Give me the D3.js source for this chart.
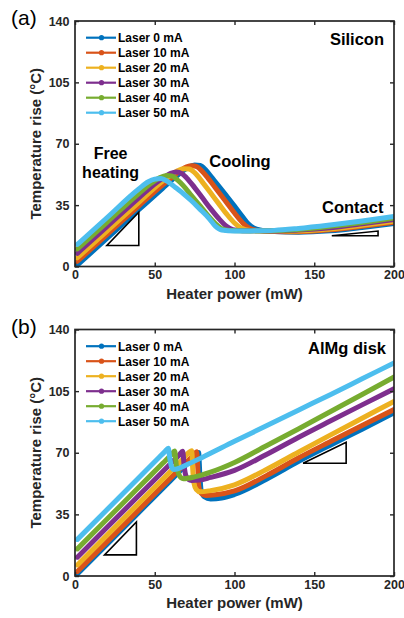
<!DOCTYPE html>
<html>
<head>
<meta charset="utf-8">
<script src="https://cdn.jsdelivr.net/npm/d3@7"></script>
<style>
  html, body { margin: 0; padding: 0; background: #fff; }
  svg { display: block; }
  text { font-family: "Liberation Sans", Arial, Helvetica, sans-serif; }
</style>
</head>
<body>
<svg id="chart" width="404" height="618"></svg>
<script>
// ---------------- DATA ----------------
const xTicks = [0, 50, 100, 150, 200];
const yTicks = [0, 35, 70, 105, 140];
const laserLabels = ["Laser 0 mA", "Laser 10 mA", "Laser 20 mA", "Laser 30 mA", "Laser 40 mA", "Laser 50 mA"];
const seriesColors = ["#0072BD", "#D95319", "#EDB120", "#7E2F8E", "#77AC30", "#4DBEEE"];

// (a) Silicon: [heater power mW, temperature rise °C]
const siLaser0  = [[1.5,0.8],[20,16],[40,32.4],[55,44.6],[62,50.2],[67,54],[71,56.6],[75,57.9],[78.5,57.6],[82,55],[86,50.5],[90,46],[95,40.3],[100,34.5],[105,28.5],[109,24],[112,22],[116,20.8],[125,20],[140,19.6],[160,20.4],[180,22.3],[200,24.5]];
const siLaser10 = [[1.5,3],[20,18.2],[40,34.6],[55,46.6],[61,51],[66,54.6],[70,56.8],[73.5,57.5],[76.5,56.9],[80,54],[85,48.5],[90,42.5],[95,36.5],[100,30.5],[105,25],[109,22],[114,20.6],[125,20],[140,19.8],[160,20.9],[180,22.9],[200,25.2]];
const siLaser20 = [[1.5,5],[20,20.2],[40,36.6],[54,48],[59,51.5],[64,54.4],[68,55.8],[71.5,55.6],[75,53.5],[80,48],[85,42],[90,36],[95,30],[100,24.8],[104,22],[110,20.6],[125,20.2],[140,20.2],[160,21.4],[180,23.5],[200,25.8]];
const siLaser30 = [[1.5,7.5],[20,22.7],[40,39.1],[51,47.8],[56,51],[60,53.1],[63.5,53.9],[67,53],[70,50.5],[75,45],[80,39],[85,33],[90,27.5],[95,23],[99,21],[105,20.4],[125,20.3],[140,20.8],[160,22.1],[180,24.3],[200,26.8]];
const siLaser40 = [[1.5,10],[20,25.2],[40,41.6],[48,47.6],[53,50.6],[57.5,51.9],[61,51.5],[64,49.5],[68,46],[73,40.5],[78,35],[83,29.5],[88,24.5],[92,21.5],[97,20.5],[110,20.3],[125,20.4],[140,21.1],[160,22.9],[180,25.1],[200,27.7]];
const siLaser50 = [[1.5,12.6],[20,27.8],[40,44.2],[46,48.3],[50,49.8],[54,50.2],[58,48.5],[63,45],[68,41.5],[73,37.5],[78,33],[84,27.5],[88,23],[92,20.8],[100,20.2],[110,20.3],[125,20.6],[140,21.7],[160,23.7],[180,26],[200,28.5]];

// (b) AlMg disk
const alLaser0  = [[1.5,1.1],[20,17.9],[40,36.1],[60,54.3],[72,65.2],[77.5,70.2],[78.2,59],[79,49],[81,45],[85,43.8],[92,44.3],[100,46.3],[120,55],[140,65],[160,74.3],[180,83.4],[200,92.6]];
const alLaser10 = [[1.5,2.5],[20,19.3],[40,37.5],[60,55.7],[70,64.8],[74.5,68.9],[76.3,70.5],[77,61],[77.6,51],[79,47],[82,45.7],[88,46.1],[100,48.3],[120,57],[140,67],[160,76.3],[180,85.5],[200,94.5]];
const alLaser20 = [[1.5,6.3],[20,23.1],[40,41.3],[60,59.5],[68,66.8],[71.5,70.3],[73.2,71.1],[73.8,61],[74.5,53],[76,49.2],[78.5,47.8],[85,48.5],[100,51.8],[120,60.5],[140,70.3],[160,80],[180,89.6],[200,99.2]];
const alLaser30 = [[1.5,10.7],[20,27.5],[40,45.7],[60,63.9],[65.5,68.9],[67.5,70.9],[68.5,62],[69.5,57],[71,55],[73,54.3],[78,54.5],[85,56],[100,60],[120,69],[140,78.7],[160,88],[180,97.2],[200,106.3]];
const alLaser40 = [[1.5,15.4],[20,32.2],[40,50.4],[55,64],[60.5,69],[62.5,71],[63.5,63],[65,58],[66.5,55.8],[68,55.3],[75,56.3],[85,59],[100,64.5],[120,74],[140,83.5],[160,93.3],[180,103.1],[200,113]];
const alLaser50 = [[1.5,20.8],[20,37.6],[40,55.8],[52,66.7],[56.5,70.8],[58.5,72.5],[59.5,66.5],[60.5,62.2],[62,60.5],[70,63.2],[80,67.5],[100,76.5],[120,85.3],[140,94.2],[160,103],[180,112],[200,121]];

// slope guide triangles (data units)
const siTriangles = [[[20,12],[40,12],[40,31]], [[161,17.5],[190,17.5],[190,20.2]]];
const alTriangles = [[[18.5,12],[38.5,12],[38.5,30.7]], [[143,64],[170,64],[170,76]]];

// ---------------- DRAWING ----------------
const svg = d3.select("#chart");
const FONT = '"Liberation Sans", Arial, Helvetica, sans-serif';
const AXC = "#262626";
const left = 75, right = 394;

function drawPanel(cfg) {
  const x = d3.scaleLinear().domain([0, 200]).range([left, right]);
  const y = d3.scaleLinear().domain([0, 140]).range([cfg.bottom, cfg.top]);
  const g = svg.append("g");

  const clipId = "clip-" + cfg.id;
  svg.append("defs").append("clipPath").attr("id", clipId)
    .append("rect").attr("x", left).attr("y", cfg.top)
    .attr("width", right - left).attr("height", cfg.bottom - cfg.top);

  // series
  const line = d3.line().x(d => x(d[0])).y(d => y(d[1])).curve(d3.curveMonotoneX);
  const plot = g.append("g").attr("clip-path", `url(#${clipId})`);
  cfg.series.forEach((s, i) => {
    plot.append("path").datum(s)
      .attr("d", line)
      .attr("fill", "none")
      .attr("stroke", seriesColors[i])
      .attr("stroke-width", 5)
      .attr("stroke-linejoin", "round")
      .attr("stroke-linecap", "round");
  });

  // triangles
  cfg.triangles.forEach(t => {
    g.append("path")
      .attr("d", d3.line().x(d => x(d[0])).y(d => y(d[1]))(t) + "Z")
      .attr("fill", "none").attr("stroke", "#000").attr("stroke-width", 1.6)
      .attr("stroke-linejoin", "miter");
  });

  // axes
  const ax = g.append("g").attr("transform", `translate(0,${cfg.bottom})`)
    .call(d3.axisBottom(x).tickValues(xTicks).tickSizeInner(-4).tickSizeOuter(0).tickPadding(4));
  const ay = g.append("g").attr("transform", `translate(${left},0)`)
    .call(d3.axisLeft(y).tickValues(yTicks).tickSizeInner(-4).tickSizeOuter(0).tickPadding(5.5));
  const at = g.append("g").attr("transform", `translate(0,${cfg.top})`)
    .call(d3.axisTop(x).tickValues(xTicks).tickSizeInner(-4).tickSizeOuter(0).tickFormat(() => ""));
  const ar = g.append("g").attr("transform", `translate(${right},0)`)
    .call(d3.axisRight(y).tickValues(yTicks).tickSizeInner(-4).tickSizeOuter(0).tickFormat(() => ""));
  [ax, ay, at, ar].forEach(a => {
    a.select(".domain").remove();
    a.selectAll(".tick line").attr("stroke", AXC).attr("stroke-width", 1.4);
    a.selectAll(".tick text").attr("fill", AXC).style("font-family", FONT)
      .style("font-size", "12.5px").style("font-weight", "bold");
  });
  g.append("rect").attr("x", left).attr("y", cfg.top)
    .attr("width", right - left).attr("height", cfg.bottom - cfg.top)
    .attr("fill", "none").attr("stroke", AXC).attr("stroke-width", 1.7);

  // axis labels
  g.append("text").attr("x", (left + right) / 2).attr("y", cfg.bottom + 32)
    .attr("text-anchor", "middle").attr("fill", AXC)
    .style("font-size", "15px").style("font-weight", "bold")
    .text("Heater power (mW)");
  g.append("text")
    .attr("transform", `translate(40.5,${(cfg.top + cfg.bottom) / 2}) rotate(-90)`)
    .attr("text-anchor", "middle").attr("fill", AXC)
    .style("font-size", "15px").style("font-weight", "bold")
    .text("Temperature rise (°C)");

  // panel tag
  g.append("text").attr("x", 11).attr("y", cfg.tagY)
    .attr("fill", "#000").style("font-size", "21px")
    .text(cfg.tag);

  // material label
  g.append("text").attr("x", cfg.matX).attr("y", cfg.top + 24)
    .attr("text-anchor", "end").attr("fill", "#000")
    .style("font-size", "16.5px").style("font-weight", "bold")
    .text(cfg.material);

  // legend
  const lg = g.append("g");
  laserLabels.forEach((lab, i) => {
    const ly = cfg.top + 16.7 + i * 15;
    lg.append("line").attr("x1", 86).attr("x2", 116).attr("y1", ly).attr("y2", ly)
      .attr("stroke", seriesColors[i]).attr("stroke-width", 2.2);
    lg.append("circle").attr("cx", 101.5).attr("cy", ly).attr("r", 2.6)
      .attr("fill", seriesColors[i]);
    lg.append("text").attr("x", 118).attr("y", ly).attr("dy", "0.36em")
      .attr("fill", "#000").style("font-size", "12px").style("font-weight", "bold")
      .text(lab);
  });

  // annotations
  (cfg.notes || []).forEach(n => {
    g.append("text").attr("x", x(n.p)).attr("y", y(n.t))
      .attr("text-anchor", n.anchor).attr("fill", "#000")
      .style("font-size", n.size || "16.5px").style("font-weight", "bold")
      .text(n.text);
  });
}

drawPanel({
  id: "a", top: 21, bottom: 266.5, tag: "(a)", tagY: 25,
  series: [siLaser0, siLaser10, siLaser20, siLaser30, siLaser40, siLaser50],
  triangles: siTriangles, material: "Silicon", matX: 384,
  notes: [
    { text: "Free", p: 22.3, t: 61.1, anchor: "middle", size: "16px" },
    { text: "heating", p: 22.3, t: 50.5, anchor: "middle", size: "16px" },
    { text: "Cooling", p: 84.2, t: 56.5, anchor: "start" },
    { text: "Contact", p: 193.4, t: 30.7, anchor: "end" }
  ]
});

drawPanel({
  id: "b", top: 329.5, bottom: 576, tag: "(b)", tagY: 333.5,
  series: [alLaser0, alLaser10, alLaser20, alLaser30, alLaser40, alLaser50],
  triangles: alTriangles, material: "AlMg disk", matX: 386
});
</script>
</body>
</html>
